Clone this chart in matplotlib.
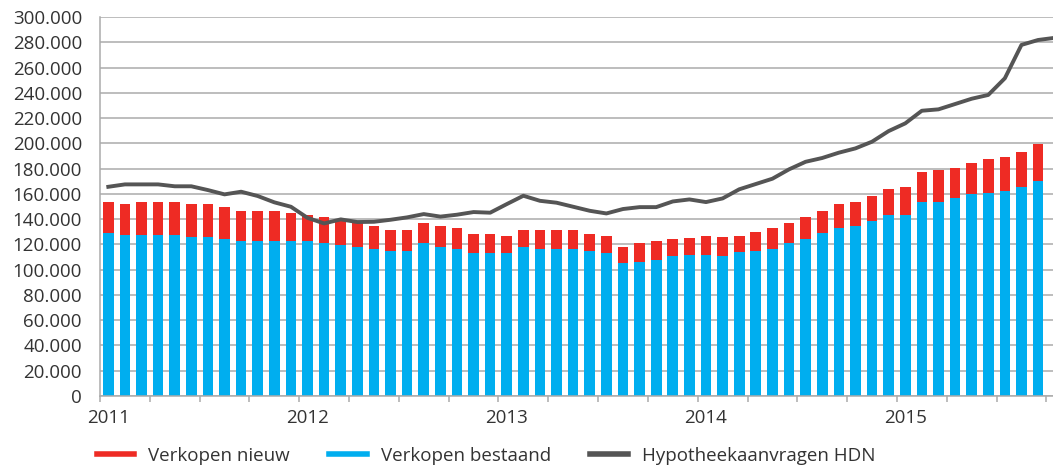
import matplotlib
matplotlib.use("Agg")
from matplotlib import pyplot as plt
from matplotlib.ticker import FuncFormatter, FixedLocator
from matplotlib.lines import Line2D
import numpy as np

# monthly, Jan 2011 - Sep 2015 (thousands)
verkopen_bestaand = [128.7, 127.1, 127.1, 127.1, 127.1, 125.5, 125.5, 124.2, 122.4, 122.4, 122.4, 122.4,
                     122.5, 120.8, 119.4, 118.1, 116.5, 114.9, 114.9, 120.8, 118.1, 116.5, 113.4, 113.4,
                     113.4, 118.1, 116.5, 116.5, 116.5, 114.9, 113.4, 104.9, 106.2, 107.8, 110.5, 111.8,
                     112.0, 110.7, 113.6, 114.9, 116.5, 121.0, 123.9, 128.7, 132.9, 134.2, 138.7, 143.2,
                     143.2, 153.5, 153.5, 156.4, 159.6, 160.9, 162.5, 165.4, 169.9]
verkopen_nieuw = [25.0, 25.1, 26.6, 26.6, 26.6, 26.7, 26.7, 25.1, 24.0, 24.0, 24.0, 22.4,
                  20.7, 20.6, 20.4, 19.0, 17.7, 16.4, 16.4, 16.3, 16.1, 16.2, 15.0, 15.0,
                  13.4, 13.2, 14.8, 14.8, 14.8, 13.5, 13.4, 13.0, 14.6, 14.6, 13.5, 13.4,
                  14.8, 14.8, 13.2, 14.8, 16.4, 16.1, 17.7, 17.4, 19.0, 19.3, 19.3, 20.6,
                  22.0, 23.8, 25.4, 24.0, 25.0, 26.7, 26.6, 28.0, 29.5]
# HDN runs one month longer (Oct 2015)
hypotheek_hdn = [165.6, 167.5, 167.5, 167.5, 166.0, 166.0, 163.0, 159.6, 161.7, 158.3, 153.3, 149.8,
                 141.0, 136.6, 139.8, 137.7, 137.9, 139.5, 141.4, 144.0, 142.0, 143.5, 145.6, 145.1,
                 151.9, 158.5, 154.5, 153.0, 149.8, 146.6, 144.5, 148.0, 149.5, 149.5, 154.0, 155.6,
                 153.5, 156.4, 163.6, 167.8, 172.0, 179.4, 185.4, 188.4, 192.6, 196.0, 201.3, 209.7,
                 215.8, 225.8, 226.9, 231.1, 235.3, 238.3, 251.5, 277.9, 281.8, 283.5]
years = ["2011", "2012", "2013", "2014", "2015"]
labels = ["Verkopen nieuw", "Verkopen bestaand", "Hypotheekaanvragen HDN"]
colors = ['#ee2b24', '#00aeef', '#555555']

bestaand = np.array(verkopen_bestaand) * 1000
nieuw = np.array(verkopen_nieuw) * 1000
hdn = np.array(hypotheek_hdn) * 1000
x = np.arange(len(bestaand))
x_line = np.arange(len(hdn))

plt.rcParams['font.family'] = ['Open Sans', 'DejaVu Sans']
text_col = '#333333'
grid_col = '#ababab'

fig = plt.figure(figsize=(10.53, 4.69), dpi=100)
ax = fig.add_axes([100 / 1053, 73 / 469, 953 / 1053, 379 / 469])

ax.bar(x, bestaand, width=0.64, color=colors[1], zorder=2)
ax.bar(x, nieuw, width=0.64, bottom=bestaand, color=colors[0], zorder=2)
ax.plot(x_line, hdn, color=colors[2], lw=2.8, zorder=3)

ax.set_ylim(0, 300000)
ax.set_xlim(-0.5, 56.9)
ax.set_yticks(np.arange(0, 300001, 20000))
ax.yaxis.set_major_formatter(FuncFormatter(lambda v, p: f"{int(v):,}".replace(",", ".")))
ax.grid(axis='y', color=grid_col, lw=1.1, zorder=0)
ax.set_axisbelow(True)

# quarter ticks on category boundaries, year labels under January
ax.xaxis.set_major_locator(FixedLocator(np.arange(-0.5, 57, 3)))
ax.xaxis.set_major_formatter(FuncFormatter(lambda v, p: ""))
ax.xaxis.set_minor_locator(FixedLocator([0, 12, 24, 36, 48]))
ax.set_xticklabels(years, minor=True)
ax.tick_params(axis='x', which='major', length=4, color=grid_col, width=1.1)
ax.tick_params(axis='x', which='minor', length=0, pad=9, labelsize=13.5, labelcolor=text_col)
ax.tick_params(axis='y', length=0, pad=13, labelsize=13.5, labelcolor=text_col)

for s in ['top', 'right']:
    ax.spines[s].set_visible(False)
for s in ['left', 'bottom']:
    ax.spines[s].set_color(grid_col)
    ax.spines[s].set_linewidth(1.1)

handles = [Line2D([], [], color=c, lw=4) for c in colors]
fig.legend(handles, labels, loc='center', bbox_to_anchor=(486 / 1053, 1 - 456 / 469), ncol=3,
           frameon=False, fontsize=13.5, labelcolor=text_col, handlelength=2.0,
           handletextpad=0.75, columnspacing=2.1)

fig.savefig('out.png', dpi=100)
